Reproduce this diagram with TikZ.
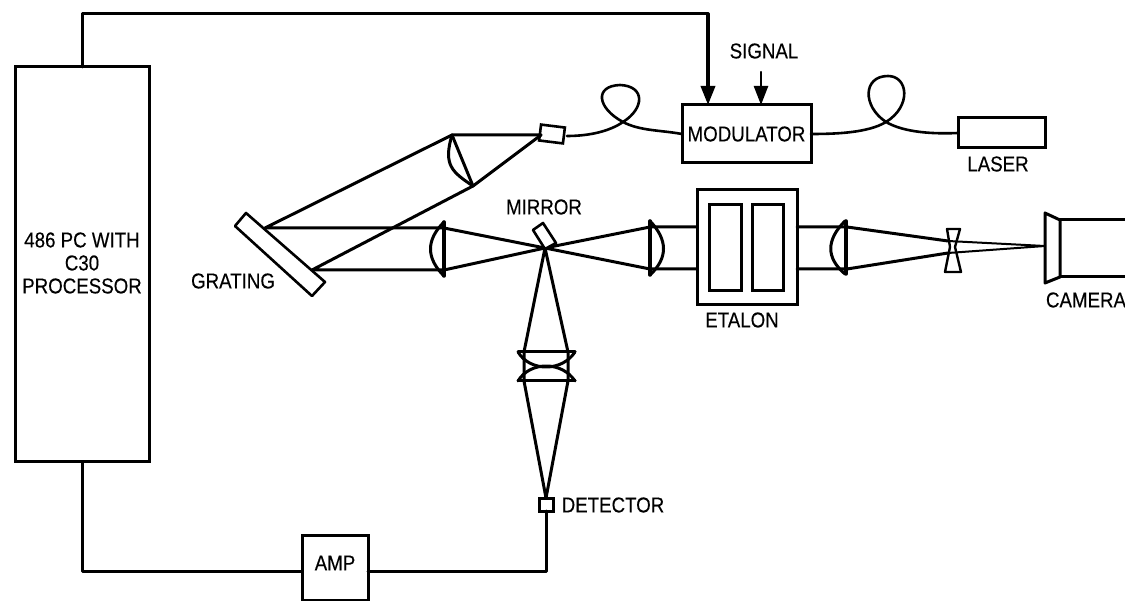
\documentclass[tikz,border=0pt]{standalone}
\usepackage{fontspec}
\setmainfont[FakeStretch=0.87,FakeBold=0.25]{Liberation Sans}
\usetikzlibrary{arrows.meta}
\tikzset{
  ln/.style={line width=3pt,line join=round,line cap=round,black},
  boxn/.style={draw,line width=3pt,fill=white,inner sep=0pt,outer sep=0pt,align=center,font=\fontsize{21.5}{23}\selectfont},
  lbl/.style={inner sep=0pt,font=\fontsize{21.5}{23}\selectfont},
  arr/.style={ln,-{Triangle[length=19pt,width=14pt]}}
}
\begin{document}
\begin{tikzpicture}[x=1pt,y=-1pt]
\useasboundingbox (0,0) rectangle (1125,601);
% boxes
\node[boxn,minimum width=134pt,minimum height=395pt] (pc) at (82,264.5) {};
\node[lbl,align=center] (tpc) at (82,263) {486 PC WITH\\C30\\PROCESSOR};
\node[boxn,minimum width=129pt,minimum height=58pt] (mod) at (746.5,134) {MODULATOR};
\node[boxn,minimum width=87pt,minimum height=30pt] (laser) at (1001.5,133) {};
\node[boxn,minimum width=66pt,minimum height=65pt] (amp) at (335,567.5) {};
\node[lbl] at (335,563) {AMP};
\node[boxn,minimum width=14pt,minimum height=13pt] (det) at (546,504.5) {};
\node[boxn,minimum width=100pt,minimum height=115pt] (etalon) at (747,247.5) {};
\node[boxn,minimum width=32pt,minimum height=86pt] (pl) at (725,248) {};
\node[boxn,minimum width=31pt,minimum height=86pt] (pr) at (767.5,248) {};
% labels
\node[lbl] (tsig) at (764,51) {SIGNAL};
\node[lbl] (tlas) at (998,164) {LASER};
\node[lbl] (tmir) at (544,207) {MIRROR};
\node[lbl] (tgra) at (233,281) {GRATING};
\node[lbl] (teta) at (742,320) {ETALON};
\node[lbl] (tcam) at (1086,300) {CAMERA};
\node[lbl] (tdet) at (613,505) {DETECTOR};
% wires
\coordinate (tl) at (82,14);
\coordinate (tr) at (708,14);
\coordinate (sigs) at (761,72);
\draw[ln] (pc.north -| tl) -- (tl) -- (tr);
\draw[arr,line width=3.5pt] (tr) -- (tr |- mod.north);
\draw[arr,line width=2.4pt] (sigs) -- (sigs |- mod.north);
\coordinate (bl) at (82,571);
\draw[ln] (pc.south -| bl) -- (bl) -- (bl -| amp.west);
\coordinate (br) at (546,571);
\draw[ln] (br -| amp.east) -- (br) -- (det.south);
% collimator
\node[draw,line width=2.6pt,fill=white,rotate=-7,minimum width=24pt,minimum height=16pt,inner sep=0pt] (coll) at (552,134) {};
% fibres
\draw[ln,line width=2.6pt] (567,136) .. controls (590,136) and (610,131) .. (623,122)
  .. controls (645,108) and (645,86) .. (620,85)
  .. controls (594,86) and (597,108) .. (623,122)
  .. controls (640,131) and (660,130) .. (mod.west);
\draw[ln,line width=2.6pt] (mod.east) .. controls (835,134) and (868,133) .. (886,122)
  .. controls (912,106) and (908,76) .. (888,76)
  .. controls (863,76) and (862,106) .. (886,122)
  .. controls (905,133) and (935,134) .. (laser.west);
% optical points
\coordinate (ca) at (452,135);
\coordinate (cb) at (473,186);
\coordinate (cf) at (541,135);
\coordinate (ga) at (265,228);
\coordinate (gb) at (312,270);
\coordinate (la) at (444,228);
\coordinate (lb) at (444,270);
\coordinate (m) at (545,248);
\coordinate (ra) at (650,227);
\coordinate (rb) at (650,269);
\coordinate (ea) at (847,227);
\coordinate (eb) at (847,269);
\coordinate (pa) at (948,241);
\coordinate (pb) at (948,253);
\coordinate (foc) at (1045,246);
% beams
\draw[ln] (cf) -- (ca) -- (ga) -- (la) -- (m) -- (rb) -- (rb -| etalon.west);
\draw[ln] (cf) -- (cb) -- (gb) -- (lb) -- (m) -- (ra) -- (ra -| etalon.west);
\draw[ln] (etalon.east |- ra) -- (ea) -- (pa);
\draw[ln] (etalon.east |- rb) -- (eb) -- (pb);
\draw[ln] (m) -- (524,352) -- (524,381) -- (det.north);
\draw[ln] (m) -- (568,352) -- (568,381) -- (det.north);
% grating and mirror
\draw[ln,fill=white,line width=2.6pt] (246,213) -- (325,282) -- (312,296) -- (235,226) -- cycle;
\draw[ln,fill=white,line width=2.6pt] (543,223) -- (556,243) -- (545,249) -- (533,230) -- cycle;
% lenses
\draw[ln] (ca) -- (cb);
\draw[ln] (ca) .. controls (443,165) and (452,172) .. (cb);
\draw[ln,line width=3.5pt] (444,222) -- (444,276);
\draw[ln] (444,222) .. controls (426,240) and (426,258) .. (444,276);
\draw[ln,line width=3.5pt] (650,221) -- (650,275);
\draw[ln] (650,221) .. controls (668,240) and (668,258) .. (650,275);
\draw[ln,line width=3.5pt] (846,221) -- (846,274);
\draw[ln] (845,221) .. controls (826,240) and (826,258) .. (845,274);
\draw[ln] (518,352) -- (575,352);
\draw[ln] (518,352) .. controls (530,372) and (562,372) .. (575,352);
\draw[ln] (518,381) -- (575,381);
\draw[ln] (518,381) .. controls (530,361) and (562,361) .. (575,381);
% pinhole
\draw[ln,line width=2.4pt,fill=white] (947,229) -- (960,229) -- (955,247) -- (961,272) -- (945,272) -- (950,247) -- cycle;
\draw[ln,line width=2pt] (pa) -- (foc) -- (pb);
% camera
\draw[ln] (1045,213) -- (1060,220) -- (1060,277) -- (1045,283) -- cycle;
\draw[ln] (1060,220) -- (1125,220);
\draw[ln] (1060,277) -- (1125,277);
\end{tikzpicture}
\end{document}
